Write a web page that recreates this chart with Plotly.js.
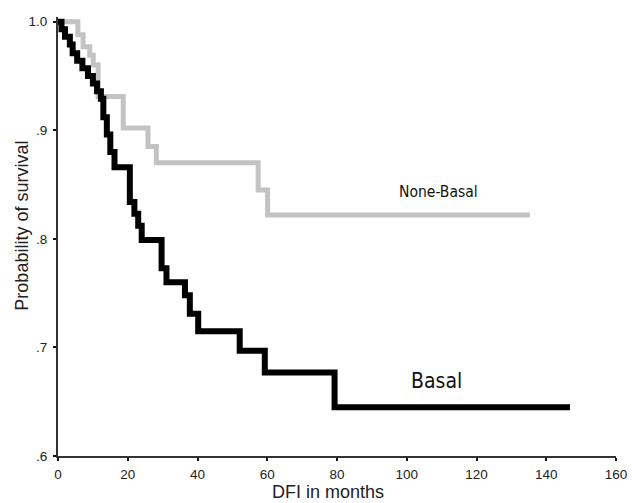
<!DOCTYPE html>
<html>
<head>
<meta charset="utf-8">
<script src="https://cdn.plot.ly/plotly-3.0.1.min.js"></script>
<style>html,body{margin:0;padding:0;background:#fff;}</style>
</head>
<body>
<div id="chart" style="width:632px;height:503px;"></div>
<script>
// Kaplan-Meier step data (month of event, survival after event)
const basalMonths = [0, 1.0, 2.0, 3.4, 4.2, 5.5, 7.0, 8.6, 10.0, 11.2, 12.3, 13.0, 14.0, 15.0, 16.2, 20.6, 21.9, 23.0, 24.0, 29.7, 31.1, 36.4, 37.8, 40.2, 52.1, 59.3, 79.3, 146.8];
const basalSurv   = [1.0, 0.993, 0.986, 0.979, 0.971, 0.964, 0.957, 0.950, 0.943, 0.936, 0.929, 0.912, 0.896, 0.880, 0.866, 0.834, 0.823, 0.812, 0.799, 0.773, 0.760, 0.748, 0.731, 0.715, 0.697, 0.677, 0.645, 0.645];

const nonBasalMonths = [0, 5.7, 7.2, 9.1, 10.1, 11.5, 18.7, 25.8, 28.2, 57.4, 60.1, 135.3];
const nonBasalSurv   = [1.0, 0.988, 0.977, 0.969, 0.960, 0.931, 0.902, 0.885, 0.870, 0.845, 0.822, 0.822];

const xTickVals = [0, 20, 40, 60, 80, 100, 120, 140, 160];
const yTickVals = [0.6, 0.7, 0.8, 0.9, 1.0];
const yTickText = ['.6', '.7', '.8', '.9', '1.0'];

const labelNonBasal = 'None-Basal';
const labelBasal = 'Basal';

const tickFont = {family: 'Liberation Sans, Arial, sans-serif', size: 13.5, color: '#222'};
const titleFont = {family: 'Liberation Sans, Arial, sans-serif', size: 18, color: '#222'};
const narrowFont = 'DejaVu Sans Condensed, DejaVu Sans, sans-serif';

const traces = [
  {
    x: nonBasalMonths, y: nonBasalSurv, type: 'scatter', mode: 'lines',
    line: {shape: 'hv', color: '#c3c3c3', width: 5},
    name: labelNonBasal, showlegend: false, hoverinfo: 'skip'
  },
  {
    x: basalMonths, y: basalSurv, type: 'scatter', mode: 'lines',
    line: {shape: 'hv', color: '#000000', width: 6},
    name: labelBasal, showlegend: false, hoverinfo: 'skip'
  }
];

const layout = {
  width: 632, height: 503,
  margin: {l: 58, r: 16, t: 17, b: 47, pad: 0},
  paper_bgcolor: '#fff', plot_bgcolor: '#fff',
  showlegend: false,
  xaxis: {
    range: [0, 160], tickvals: xTickVals, ticktext: xTickVals.map(String),
    showgrid: false, zeroline: false, showline: true, linecolor: '#333', linewidth: 2,
    ticks: 'outside', ticklen: 3, tickwidth: 2, tickcolor: '#111',
    tickfont: tickFont, ticklabelstandoff: 2, fixedrange: true
  },
  yaxis: {
    range: [0.6, 1.0043], tickvals: yTickVals, ticktext: yTickText,
    showgrid: false, zeroline: false, showline: true, linecolor: '#333', linewidth: 2,
    ticks: 'outside', ticklen: 3, tickwidth: 2, tickcolor: '#111',
    tickfont: tickFont, ticklabelstandoff: 3, fixedrange: true
  },
  annotations: [
    {text: labelNonBasal, x: 109.2, y: 0.843, xref: 'x', yref: 'y', showarrow: false,
     xanchor: 'center', yanchor: 'middle', font: {family: narrowFont, size: 15.5, color: '#111'}},
    {text: labelBasal, x: 108.4, y: 0.669, xref: 'x', yref: 'y', showarrow: false,
     xanchor: 'center', yanchor: 'middle', font: {family: narrowFont, size: 21, color: '#111'}},
    {text: 'DFI in months', x: 0.4836, y: -0.082, xref: 'paper', yref: 'paper', showarrow: false,
     xanchor: 'center', yanchor: 'middle', font: titleFont},
    {text: 'Probability of survival', x: -0.0651, y: 0.524, xref: 'paper', yref: 'paper', showarrow: false,
     textangle: -90, xanchor: 'center', yanchor: 'middle', font: titleFont}
  ]
};

Plotly.newPlot('chart', traces, layout, {staticPlot: true, displayModeBar: false});
</script>
</body>
</html>
